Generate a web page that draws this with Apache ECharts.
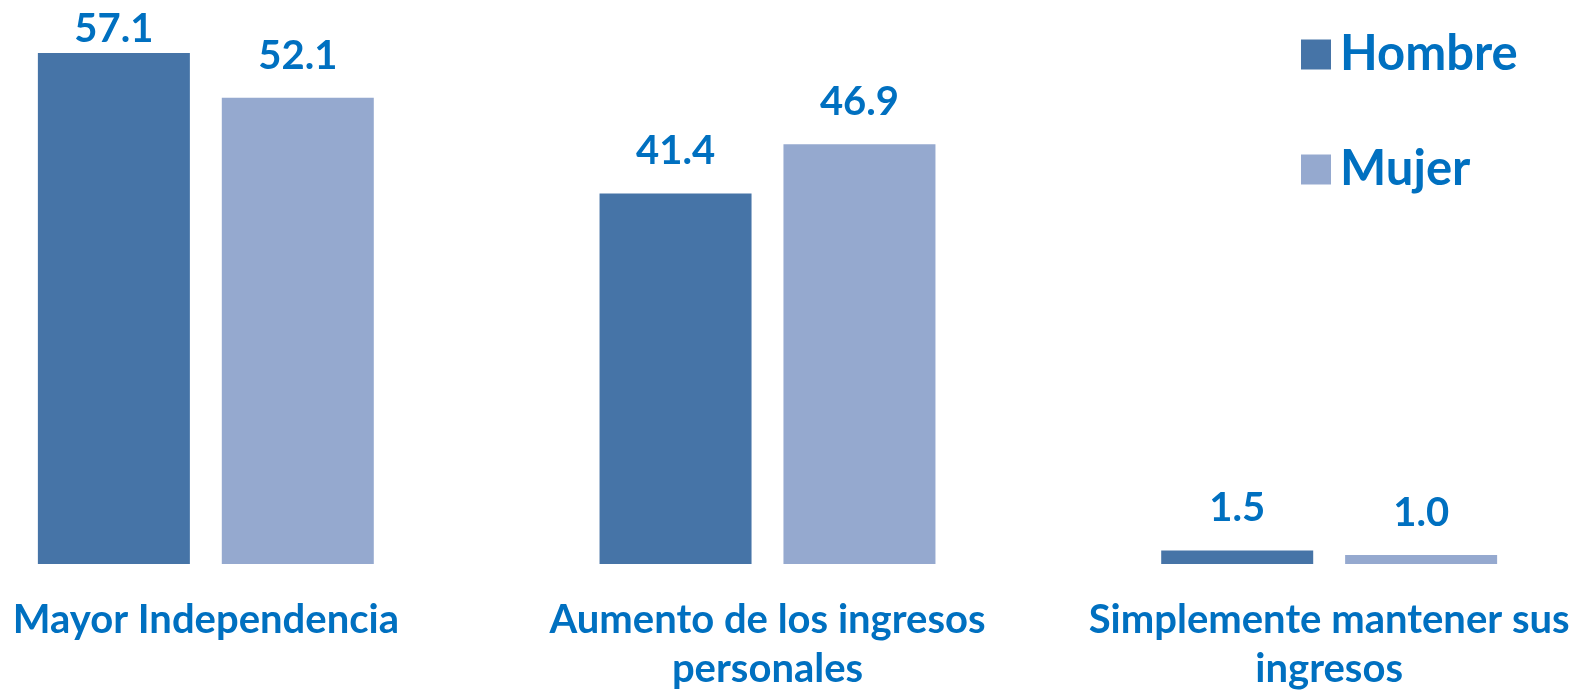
<!DOCTYPE html>
<html>
<head>
<meta charset="utf-8">
<script src="https://cdn.jsdelivr.net/npm/echarts@6/dist/echarts.min.js"></script>
<style>
  html, body { margin: 0; padding: 0; background: #ffffff; }
  #chart { width: 1575px; height: 691px; }
</style>
</head>
<body>
<div id="chart"></div>
<script>
// Motivos para trabajar, por sexo (%)
const categories = [
  'Mayor Independencia',
  'Aumento de los ingresos\npersonales',
  'Simplemente mantener sus\ningresos'
];
const seriesNames = ['Hombre', 'Mujer'];
const hombre = [57.1, 41.4, 1.5];
const mujer = [52.1, 46.9, 1.0];

const TEXT_BLUE = '#0070C0';
const COLOR_H = '#4674A7';
const COLOR_M = '#95A9CF';
const FONT = 'Lato, "Open Sans", sans-serif';

// the tallest bar's label is tucked closer to its bar so it stays on the canvas
const yMax = 60;
function withLabels(values) {
  return values.map(v => (v > yMax - 4 ? { value: v, label: { distance: 4 } } : v));
}

const labelStyle = {
  show: true,
  position: 'top',
  distance: 22,
  color: TEXT_BLUE,
  fontFamily: FONT,
  fontWeight: 'bold',
  fontSize: 40,
  formatter: p => Number(p.value).toFixed(1)
};

const chart = echarts.init(document.getElementById('chart'), null, { renderer: 'canvas' });
chart.setOption({
  backgroundColor: '#ffffff',
  animation: false,
  grid: {
    left: -75, right: -35, top: 27, bottom: 127,
    containLabel: false,
    outerBoundsMode: 'none'
  },
  legend: {
    orient: 'vertical',
    left: 1296,
    top: 25,
    icon: 'rect',
    itemWidth: 30,
    itemHeight: 30,
    itemGap: 66,
    textStyle: {
      color: TEXT_BLUE,
      fontFamily: FONT,
      fontWeight: 'bold',
      fontSize: 49,
      padding: [0, 0, 0, 4]
    },
    data: seriesNames
  },
  xAxis: {
    type: 'category',
    data: categories,
    axisLine: { show: false },
    axisTick: { show: false },
    axisLabel: {
      interval: 0,
      margin: 32,
      color: TEXT_BLUE,
      fontFamily: FONT,
      fontWeight: 'bold',
      fontSize: 40,
      lineHeight: 49
    }
  },
  yAxis: {
    type: 'value',
    min: 0,
    max: yMax,
    show: false,
    splitLine: { show: false }
  },
  series: [
    {
      name: seriesNames[0],
      type: 'bar',
      data: withLabels(hombre),
      barWidth: 152,
      barGap: '21%',
      itemStyle: { color: COLOR_H },
      label: labelStyle
    },
    {
      name: seriesNames[1],
      type: 'bar',
      data: withLabels(mujer),
      barWidth: 152,
      barGap: '21%',
      itemStyle: { color: COLOR_M },
      label: labelStyle
    }
  ]
});
</script>
</body>
</html>
